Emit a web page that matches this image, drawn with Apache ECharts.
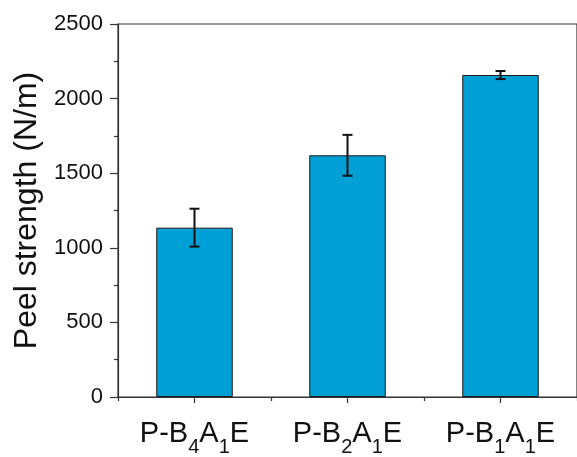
<!DOCTYPE html>
<html>
<head>
<meta charset="utf-8">
<script src="https://cdn.jsdelivr.net/npm/echarts@6/dist/echarts.min.js"></script>
<style>
  html, body { margin: 0; padding: 0; background: #fff; }
  #chart { width: 577px; height: 457px; }
</style>
</head>
<body>
<div id="chart"></div>
<script>
// Sample names (digits after B and A are drawn as subscripts)
const categories = ['P-B4A1E', 'P-B2A1E', 'P-B1A1E'];
// Mean peel strength, N/m
const peelStrength = [1135, 1620, 2158];
// Standard deviation, N/m
const peelError = [127, 137, 27];
// Value axis ticks
const yTicks = [0, 500, 1000, 1500, 2000, 2500];

const FONT = '"Liberation Sans", Arial, sans-serif';
const TEXT = '#111';
const AXIS = '#333';

function subscriptLabel(name) {
  const m = name.match(/^(P-B)(\d)(A)(\d)(E)$/);
  if (!m) return '{m|' + name + '}';
  return '{m|' + m[1] + '}{s|' + m[2] + '}{m|' + m[3] + '}{s|' + m[4] + '}{m|' + m[5] + '}';
}

const chart = echarts.init(document.getElementById('chart'), null, { renderer: 'canvas' });

chart.setOption({
  animation: false,
  backgroundColor: '#fff',
  grid: {
    left: 118, top: 24, bottom: 60, right: -4,
    show: true, borderColor: AXIS, borderWidth: 1.2, backgroundColor: 'transparent'
  },
  xAxis: [
    {
      type: 'category',
      data: categories,
      boundaryGap: true,
      axisLine: { show: true, onZero: false, lineStyle: { color: AXIS, width: 1.2 } },
      axisTick: { show: true, alignWithLabel: true, length: 6, lineStyle: { color: AXIS, width: 1.2 } },
      axisLabel: {
        interval: 0,
        hideOverlap: false,
        margin: 22,
        formatter: subscriptLabel,
        rich: {
          m: { fontFamily: FONT, fontSize: 29, color: TEXT, lineHeight: 29, verticalAlign: 'top' },
          s: { fontFamily: FONT, fontSize: 20, color: TEXT, lineHeight: 20, padding: [18, 0, 0, 0], verticalAlign: 'top' }
        }
      },
      splitLine: { show: false }
    },
    {
      // short ticks on category boundaries
      type: 'category',
      data: categories,
      position: 'bottom',
      boundaryGap: true,
      axisLine: { show: false },
      axisTick: { show: true, interval: 0, alignWithLabel: false, length: 4, lineStyle: { color: AXIS, width: 1.2 } },
      axisLabel: { show: false },
      splitLine: { show: false }
    }
  ],
  yAxis: {
    type: 'value',
    min: yTicks[0],
    max: yTicks[yTicks.length - 1],
    interval: yTicks[1] - yTicks[0],
    name: 'Peel strength (N/m)',
    nameLocation: 'middle',
    nameGap: 72,
    nameTextStyle: { fontFamily: FONT, fontSize: 32, color: TEXT },
    axisLine: { show: true, lineStyle: { color: AXIS, width: 1.2 } },
    axisTick: { show: true, length: 8, lineStyle: { color: AXIS, width: 1.2 } },
    minorTick: { show: true, splitNumber: 2, length: 4, lineStyle: { color: AXIS, width: 1.2 } },
    axisLabel: {
      margin: 15, fontFamily: FONT, fontSize: 22, color: TEXT,
      formatter: function (v) { return String(v); }
    },
    splitLine: { show: false }
  },
  series: [
    {
      type: 'bar',
      data: peelStrength,
      barWidth: '50%',
      itemStyle: { color: '#009fd6', borderColor: '#1a1a1a', borderWidth: 1 }
    },
    {
      type: 'custom',
      data: peelStrength.map((v, i) => [i, v - peelError[i], v + peelError[i]]),
      z: 10,
      renderItem: function (params, api) {
        const lo = api.coord([api.value(0), api.value(1)]);
        const hi = api.coord([api.value(0), api.value(2)]);
        const half = 5;
        const style = { stroke: '#111', lineWidth: 2 };
        return {
          type: 'group',
          children: [
            { type: 'line', shape: { x1: lo[0], y1: lo[1], x2: hi[0], y2: hi[1] }, style: style },
            { type: 'line', shape: { x1: hi[0] - half, y1: hi[1], x2: hi[0] + half, y2: hi[1] }, style: style },
            { type: 'line', shape: { x1: lo[0] - half, y1: lo[1], x2: lo[0] + half, y2: lo[1] }, style: style }
          ]
        };
      }
    }
  ]
});
</script>
</body>
</html>
